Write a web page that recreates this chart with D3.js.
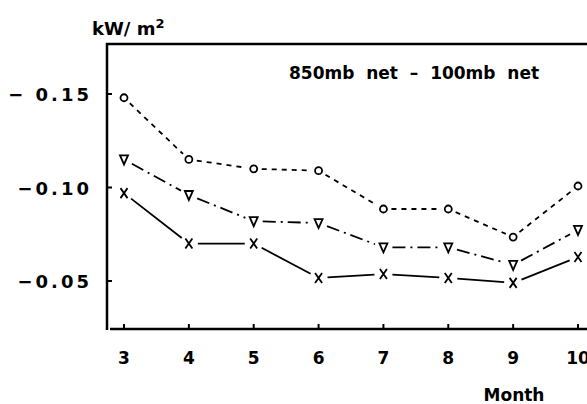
<!DOCTYPE html>
<meta charset="utf-8">
<style>
body { margin: 0; background: #fff; }
text { font-family: "DejaVu Sans", sans-serif; font-weight: bold; fill: #000; }
.frame { fill: none; stroke: #000; stroke-width: 2.5px; }
.tick { stroke: #000; stroke-width: 2px; }
.seg { fill: none; stroke: #000; stroke-width: 1.8px; }
.mark { fill: none; stroke: #000; stroke-width: 1.8px; }
</style>
<svg width="587" height="404"></svg>
<script src="https://cdn.jsdelivr.net/npm/d3@7"></script>
<script>

var months = [3, 4, 5, 6, 7, 8, 9, 10];
var yTicks = [-0.15, -0.10, -0.05];
var yTickLabels = ["\u2212 0.15", "\u22120.10", "\u22120.05"];

// 850mb net - 100mb net, three curves
var circleVals   = [-0.148, -0.115, -0.110, -0.109, -0.0885, -0.0885, -0.0735, -0.1008];
var triangleVals = [-0.115, -0.096, -0.082, -0.081, -0.068, -0.068, -0.0586, -0.0773];
var crossVals    = [-0.097, -0.070, -0.070, -0.0516, -0.0537, -0.0516, -0.049, -0.0628];

var svg = d3.select("svg");

var x = d3.scaleLinear()
    .domain([3, 10])
    .range([124, 578]);

var y = d3.scaleLinear()
    .domain([-0.05, -0.15])
    .range([281, 94]);

var pLeft = 107, pTop = 44, pBottom = 329, pRight = 587;

// frame: top line, left axis, bottom axis
svg.append("path")
    .attr("class", "frame")
    .attr("d", "M" + pRight + "," + pTop + "H" + pLeft + "V" + (pBottom + 1));
svg.append("path")
    .attr("class", "frame")
    .attr("d", "M" + (pLeft + 3) + "," + pBottom + "H" + pRight);

// y ticks (inside)
svg.selectAll(".ytick")
  .data(yTicks)
  .enter().append("line")
    .attr("class", "tick")
    .attr("x1", pLeft)
    .attr("x2", pLeft + 5)
    .attr("y1", function(d) { return y(d); })
    .attr("y2", function(d) { return y(d); });

svg.selectAll(".ylabel")
  .data(yTicks)
  .enter().append("text")
    .attr("x", 92)
    .attr("y", function(d) { return y(d) + 7; })
    .attr("text-anchor", "end")
    .attr("font-size", 18)
    .attr("letter-spacing", 3)
    .text(function(d, i) { return yTickLabels[i]; });

// x ticks (inside)
svg.selectAll(".xtick")
  .data(months)
  .enter().append("line")
    .attr("class", "tick")
    .attr("x1", function(d) { return x(d); })
    .attr("x2", function(d) { return x(d); })
    .attr("y1", pBottom - 5)
    .attr("y2", pBottom);

svg.selectAll(".xlabel")
  .data(months)
  .enter().append("text")
    .attr("x", function(d) { return x(d); })
    .attr("y", 364)
    .attr("text-anchor", "middle")
    .attr("font-size", 17)
    .text(function(d) { return d; });

svg.append("text")
    .attr("x", 514)
    .attr("y", 401)
    .attr("text-anchor", "middle")
    .attr("font-size", 17)
    .text("Month");

svg.append("text")
    .attr("x", 92)
    .attr("y", 35)
    .attr("font-size", 18)
    .html("kW/ m<tspan font-size='13' dy='-7'>2</tspan>");

svg.append("text")
    .attr("x", 289)
    .attr("y", 79)
    .attr("font-size", 17)
    .attr("xml:space", "preserve")
    .text("850mb  net  \u2013  100mb  net");

// segments shortened so they stop short of the markers
function drawSeries(vals, gap, dash) {
  var pts = months.map(function(m, i) { return [x(m), y(vals[i])]; });
  var segs = d3.pairs(pts).map(function(p) {
    var dx = p[1][0] - p[0][0], dy = p[1][1] - p[0][1];
    var len = Math.sqrt(dx * dx + dy * dy);
    var ux = dx / len, uy = dy / len;
    return [[p[0][0] + ux * gap, p[0][1] + uy * gap],
            [p[1][0] - ux * gap, p[1][1] - uy * gap]];
  });
  svg.append("g").selectAll("path")
    .data(segs)
    .enter().append("path")
      .attr("class", "seg")
      .attr("stroke-dasharray", dash)
      .attr("d", d3.line());
  return pts;
}

var cPts = drawSeries(circleVals, 8, "5,5");
var tPts = drawSeries(triangleVals, 9, "13,5,2,5");
var xPts = drawSeries(crossVals, 9, null);

svg.append("g").selectAll("circle")
  .data(cPts)
  .enter().append("circle")
    .attr("class", "mark")
    .attr("cx", function(d) { return d[0]; })
    .attr("cy", function(d) { return d[1]; })
    .attr("r", 3.5);

svg.append("g").selectAll("path")
  .data(tPts)
  .enter().append("path")
    .attr("class", "mark")
    .attr("d", function(d) {
      return "M" + (d[0] - 4) + "," + (d[1] - 4) + "H" + (d[0] + 4) + "L" + d[0] + "," + (d[1] + 5) + "Z";
    });

svg.append("g").selectAll("path")
  .data(xPts)
  .enter().append("path")
    .attr("class", "mark")
    .attr("d", function(d) {
      return "M" + (d[0] - 3.5) + "," + (d[1] - 5) + "L" + (d[0] + 3.5) + "," + (d[1] + 5) +
             "M" + (d[0] + 3.5) + "," + (d[1] - 5) + "L" + (d[0] - 3.5) + "," + (d[1] + 5);
    });

</script>
